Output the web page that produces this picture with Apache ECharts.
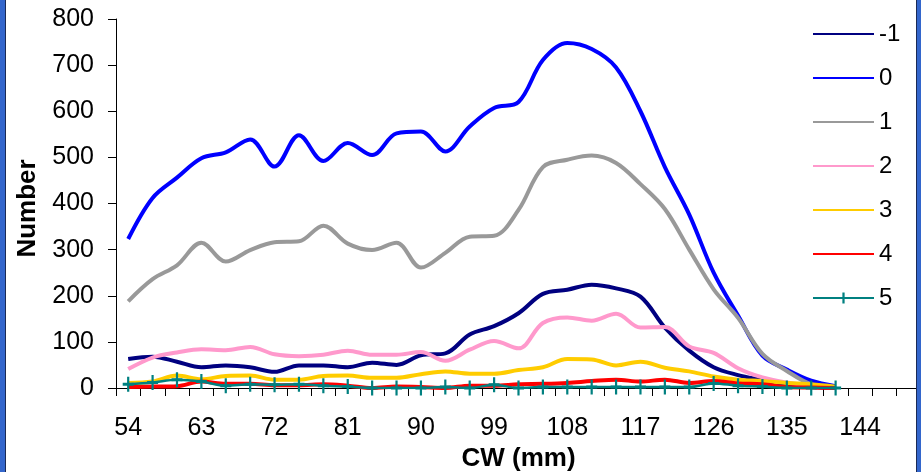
<!DOCTYPE html>
<html>
<head>
<meta charset="utf-8">
<script src="https://cdn.jsdelivr.net/npm/echarts@6/dist/echarts.min.js"></script>
<style>
  html, body { margin: 0; padding: 0; background: #ffffff; }
  #chart { width: 921px; height: 472px; }
</style>
</head>
<body>
<div id="chart"></div>
<script>
// Carapace width classes (mm), one every 3 mm
const categories = ['54','57','60','63','66','69','72','75','78','81','84','87','90','93','96','99','102','105','108','111','114','117','120','123','126','129','132','135','138','141','144','147','150'];

// Counts per width class for each group
const seriesM1 = [63,68,57,45,49,45,35,49,49,45,55,50,71,75,116,134,162,204,213,224,216,198,131,81,45,28,17,6,2,0];
const series0  = [323,412,456,498,511,539,480,548,492,531,505,552,556,513,567,607,620,711,748,735,695,600,479,376,250,157,70,40,16,4];
const series1  = [188,236,266,315,274,299,316,318,352,313,299,315,261,293,328,330,386,479,495,504,488,442,388,300,214,152,74,37,8,1];
const series2  = [41,66,77,84,82,89,73,69,72,81,72,72,78,59,83,102,86,141,153,146,161,131,132,90,76,43,23,12,5,1];
const series3  = [11,14,27,19,26,27,18,18,26,27,22,22,30,36,31,31,39,45,63,62,49,57,44,36,25,18,15,11,8,3];
const series4  = [2,3,4,14,9,9,6,6,8,5,0,3,2,0,5,5,8,9,11,15,18,14,18,11,15,10,8,2,1,0];
const series5  = [8,12,18,14,5,8,7,8,5,3,0,0,0,2,0,7,0,2,2,2,2,2,2,2,10,5,3,0,0,0];

const names  = ['-1','0','1','2','3','4','5'];
const colors = ['#000080','#0000FF','#999999','#FF99CC','#FFCC00','#FF0000','#008080'];
const values = [seriesM1, series0, series1, series2, series3, series4, series5];

const plusSymbol = 'path://M4,0 H6 V10 H4 Z M0,4 H10 V6 H0 Z';

const series = names.map((n, i) => {
  const isMarked = i === 6;
  return {
    name: n,
    type: 'line',
    data: values[i],
    smooth: 0.35,
    symbol: isMarked ? plusSymbol : 'none',
    showSymbol: isMarked,
    symbolSize: [11, 15],
    lineStyle: { color: colors[i], width: isMarked ? 2.5 : 4 },
    itemStyle: { color: colors[i] },
    emphasis: { disabled: true },
    z: 2 + i
  };
});

// Plain line keys for the unmarked series, line plus cross for the marked one
const legendData = names.map((n, i) => i === 6
  ? { name: n }
  : { name: n, itemStyle: { color: 'rgba(0,0,0,0)', opacity: 0, borderWidth: 0 } });

const FONT = 'Liberation Sans, Arial, sans-serif';

const chart = echarts.init(document.getElementById('chart'), null, { renderer: 'canvas' });
chart.setOption({
  animation: false,
  backgroundColor: '#ffffff',
  grid: { left: 116, top: 19, right: 0, bottom: 84, containLabel: false, outerBoundsMode: 'none' },
  legend: {
    orient: 'vertical',
    left: 812,
    top: 22,
    padding: 0,
    itemWidth: 61,
    itemHeight: 14,
    itemGap: 20,
    textStyle: { fontFamily: FONT, fontSize: 24, color: '#000000' },
    data: legendData
  },
  xAxis: {
    type: 'category',
    data: categories,
    boundaryGap: true,
    name: 'CW (mm)',
    nameLocation: 'middle',
    nameGap: 58,
    nameTextStyle: { fontFamily: FONT, fontSize: 26, fontWeight: 'bold', color: '#000000' },
    axisLine: { lineStyle: { color: '#000000', width: 1 } },
    axisTick: { show: true, interval: 0, length: 8, lineStyle: { color: '#000000' } },
    axisLabel: { interval: 2, margin: 28, fontFamily: FONT, fontSize: 25, color: '#000000' },
    splitLine: { show: false }
  },
  yAxis: {
    type: 'value',
    min: 0,
    max: 800,
    interval: 100,
    name: 'Number',
    nameLocation: 'middle',
    nameGap: 75,
    nameTextStyle: { fontFamily: FONT, fontSize: 26, fontWeight: 'bold', color: '#000000', padding: [0, 10, 0, 0] },
    axisLine: { show: true, lineStyle: { color: '#000000', width: 1 } },
    axisTick: { show: true, length: 8, lineStyle: { color: '#000000' } },
    axisLabel: { margin: 22, fontFamily: FONT, fontSize: 25, color: '#000000' },
    splitLine: { show: false }
  },
  graphic: [
    { type: 'rect', left: 0, top: 0, z: 100, shape: { width: 5, height: 472 }, style: { fill: '#3366CC' } },
    { type: 'rect', left: 5, top: 0, z: 100, shape: { width: 1, height: 472 }, style: { fill: '#1a2a55' } },
    { type: 'rect', left: 916, top: 0, z: 100, shape: { width: 1, height: 472 }, style: { fill: '#1a2a55' } },
    { type: 'rect', left: 917, top: 0, z: 100, shape: { width: 4, height: 472 }, style: { fill: '#3366CC' } }
  ],
  series: series
});
</script>
</body>
</html>
